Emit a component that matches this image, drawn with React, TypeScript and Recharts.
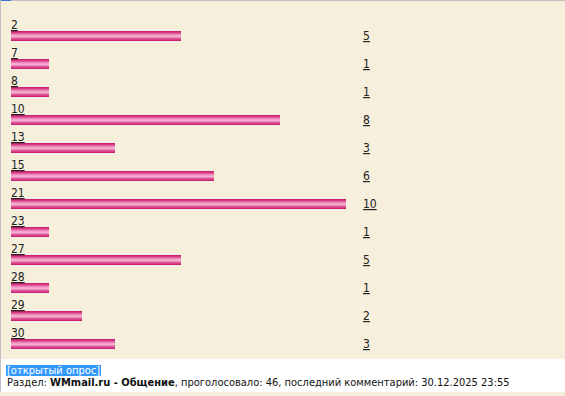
import React from "react";
import { BarChart, Bar, XAxis, YAxis } from "recharts";

const categories = ["2", "7", "8", "10", "13", "15", "21", "23", "27", "28", "29", "30"];
const votes = [5, 1, 1, 8, 3, 6, 10, 1, 5, 1, 2, 3];
const BAR_BASE = -5 / 33;
const MAX_VALUE = 10;

const data = categories.map((name, i) => ({ name, value: votes[i] }));

const FONT = "'DejaVu Sans Condensed', 'DejaVu Sans', Tahoma, sans-serif";
const BEIGE = "#F5EFDC";

const LeftTick = (props: any) => {
  const { x, y, payload } = props;
  return (
    <text x={x} y={y - 7} textAnchor="start" fontFamily={FONT} fontSize={12} fill="#222" textDecoration="underline">
      {payload.value}
    </text>
  );
};

const RightTick = (props: any) => {
  const { x, y, payload, index } = props;
  const idx = typeof index === "number" ? index : categories.indexOf(payload.value);
  return (
    <text x={x + 17} y={y + 4} textAnchor="start" fontFamily={FONT} fontSize={12} fill="#222" textDecoration="underline">
      {votes[idx]}
    </text>
  );
};

export default function App() {
  return (
    <div style={{ position: "absolute", left: 0, top: 0, width: 565, height: 396, background: BEIGE, overflow: "hidden" }}>
      <div style={{ position: "absolute", left: 0, top: 0, width: 565, height: 1, background: "#C0C0C0" }} />
      <div style={{ position: "absolute", left: 0, top: 0, width: 11, height: 1, background: "#3B6FD8" }} />
      <div style={{ position: "absolute", left: 0, top: 0, width: 1, height: 392, background: "#C0C0C0" }} />
      <div style={{ position: "absolute", left: 1, top: 1 }}>
        <BarChart
          layout="vertical"
          width={564}
          height={357}
          data={data}
          margin={{ top: 21, right: 0, bottom: 0, left: 0 }}
          barCategoryGap={0}
        >
          <defs>
            <linearGradient id="pinkBar" x1="0" y1="0" x2="0" y2="1">
              <stop offset="0%" stopColor="#C4156A" />
              <stop offset="20%" stopColor="#DC4690" />
              <stop offset="40%" stopColor="#F29AC4" />
              <stop offset="55%" stopColor="#F5B3D2" />
              <stop offset="75%" stopColor="#E05A9C" />
              <stop offset="100%" stopColor="#C4156A" />
            </linearGradient>
          </defs>
          <XAxis type="number" domain={[BAR_BASE, MAX_VALUE]} hide allowDataOverflow />
          <YAxis
            yAxisId="left"
            type="category"
            dataKey="name"
            orientation="left"
            width={10}
            axisLine={false}
            tickLine={false}
            tickSize={0}
            tickMargin={0}
            tick={<LeftTick />}
            interval={0}
          />
          <YAxis
            yAxisId="right"
            type="category"
            dataKey="name"
            orientation="right"
            width={219}
            axisLine={false}
            tickLine={false}
            tickSize={0}
            tickMargin={0}
            tick={<RightTick />}
            interval={0}
          />
          <Bar
            yAxisId="left"
            dataKey={(d: any) => [BAR_BASE, d.value]}
            barSize={10}
            fill="url(#pinkBar)"
            isAnimationActive={false}
          />
        </BarChart>
      </div>
      <div style={{ position: "absolute", left: 1, top: 359, width: 564, height: 33, background: "#FFFFFF" }} />
      <div
        style={{
          position: "absolute",
          left: 6,
          top: 365,
          height: 11,
          lineHeight: "11px",
          background: "#3399FF",
          color: "#FFFFFF",
          fontFamily: FONT,
          fontSize: 11,
          whiteSpace: "nowrap",
          padding: "0 1px",
        }}
      >
        [открытый опрос]
      </div>
      <div
        style={{
          position: "absolute",
          left: 7,
          top: 376,
          lineHeight: "13px",
          color: "#111",
          fontFamily: FONT,
          fontSize: 11,
          whiteSpace: "nowrap",
        }}
      >
        Раздел: <b>WMmail.ru - Общение</b>, проголосовало: 46, последний комментарий: 30.12.2025 23:55
      </div>
    </div>
  );
}
